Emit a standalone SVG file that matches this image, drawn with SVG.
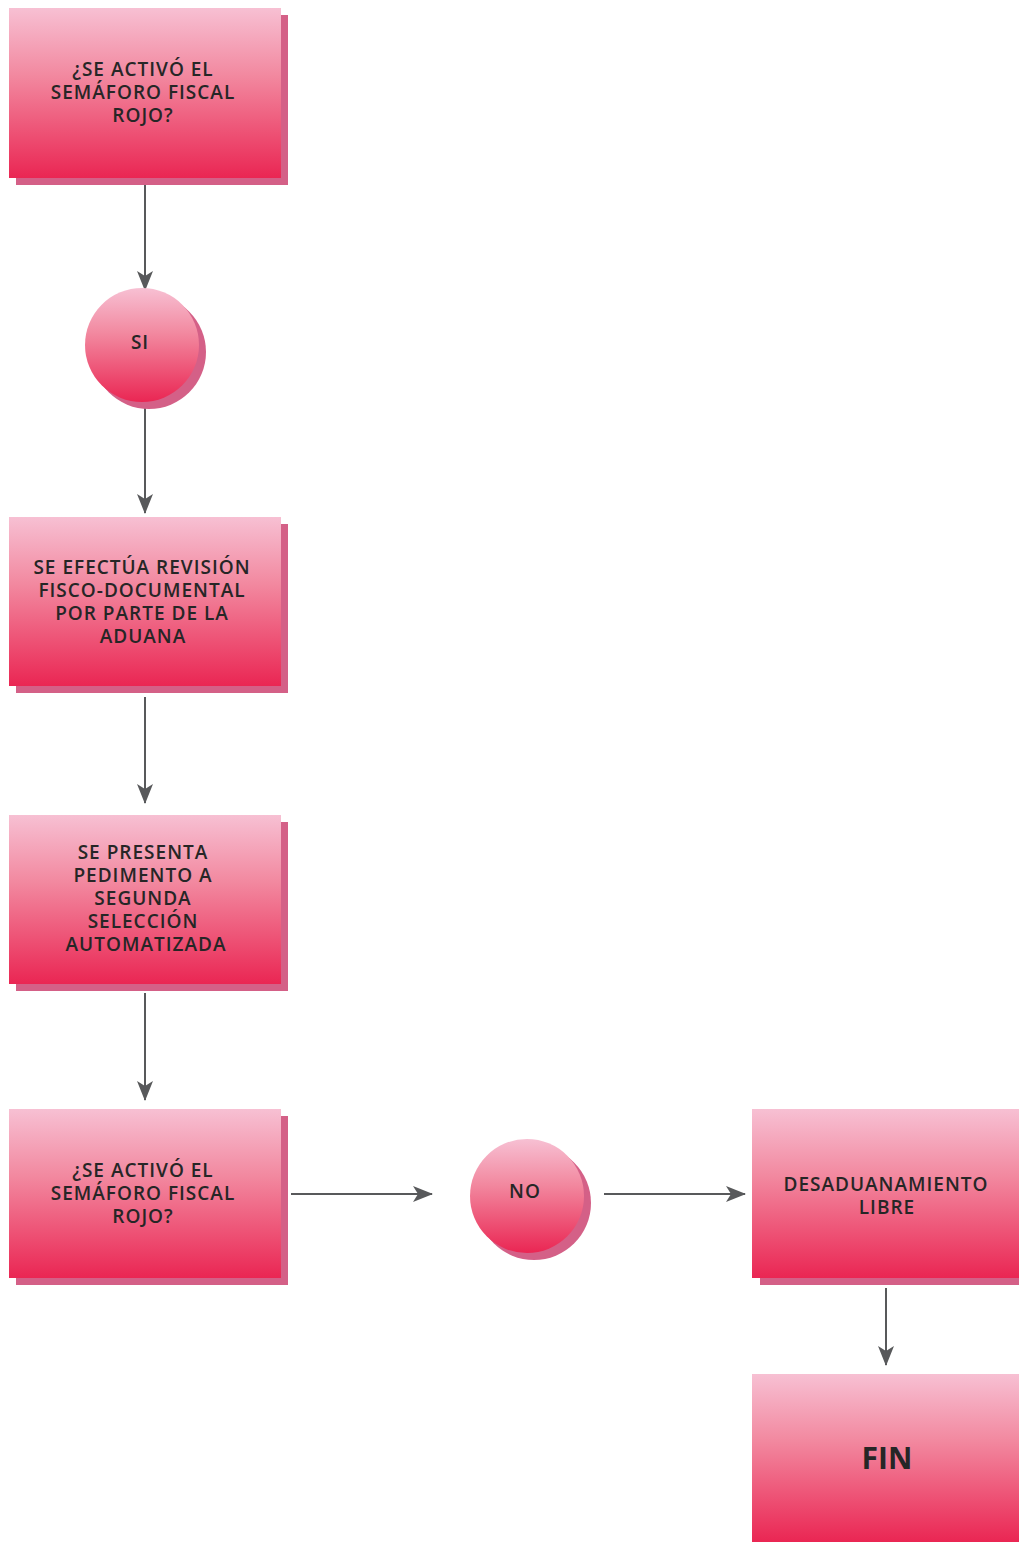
<svg xmlns="http://www.w3.org/2000/svg" width="1019" height="1542" viewBox="0 0 1019 1542">
<defs>
<linearGradient id="g" x1="0" y1="0" x2="0" y2="1">
<stop offset="0" stop-color="#f7c0d3"/>
<stop offset="0.4" stop-color="#f2889f"/>
<stop offset="1" stop-color="#ea2653"/>
</linearGradient>
<marker id="ah" viewBox="0 0 20 16" refX="19" refY="8" markerWidth="20" markerHeight="16" markerUnits="userSpaceOnUse" orient="auto">
<path d="M0,0 L20,8 L0,16 L5,8 Z" fill="#58595b"/>
</marker>
</defs>
<style>
.box{fill:url(#g)}
.sh{fill:#d46087}
.t{font-family:"Open Sans","DejaVu Sans",sans-serif;font-weight:600;font-size:19px;letter-spacing:1px;fill:#262626;text-anchor:middle}
.c{stroke:#58595b;stroke-width:2;fill:none;marker-end:url(#ah)}
</style>
<rect width="1019" height="1542" fill="#ffffff"/>
<g id="connectors">
<line class="c" x1="145" y1="182" x2="145" y2="290"/>
<line class="c" x1="145" y1="408" x2="145" y2="513"/>
<line class="c" x1="145" y1="697" x2="145" y2="803"/>
<line class="c" x1="145" y1="993" x2="145" y2="1100"/>
<line class="c" x1="291" y1="1194" x2="432" y2="1194"/>
<line class="c" x1="604" y1="1194" x2="745" y2="1194"/>
<line class="c" x1="886" y1="1288" x2="886" y2="1365"/>
</g>
<g id="n1">
<rect class="sh" x="16" y="15" width="272" height="170"/>
<rect class="box" x="9" y="8" width="272" height="170"/>
<text class="t" x="143" y="76">¿SE ACTIVÓ EL</text>
<text class="t" x="143" y="99">SEMÁFORO FISCAL</text>
<text class="t" x="143" y="122">ROJO?</text>
</g>
<g id="n2">
<circle class="sh" cx="149" cy="352" r="57"/>
<circle class="box" cx="142" cy="345" r="57"/>
<text class="t" x="140" y="349">SI</text>
</g>
<g id="n3">
<rect class="sh" x="16" y="524" width="272" height="169"/>
<rect class="box" x="9" y="517" width="272" height="169"/>
<text class="t" x="142" y="574">SE EFECTÚA REVISIÓN</text>
<text class="t" x="142" y="597">FISCO-DOCUMENTAL</text>
<text class="t" x="142" y="620">POR PARTE DE LA</text>
<text class="t" x="143" y="643">ADUANA</text>
</g>
<g id="n4">
<rect class="sh" x="16" y="822" width="272" height="169"/>
<rect class="box" x="9" y="815" width="272" height="169"/>
<text class="t" x="143" y="859">SE PRESENTA</text>
<text class="t" x="143" y="882">PEDIMENTO A</text>
<text class="t" x="143" y="905">SEGUNDA</text>
<text class="t" x="143" y="928">SELECCIÓN</text>
<text class="t" x="146" y="951">AUTOMATIZADA</text>
</g>
<g id="n5">
<rect class="sh" x="16" y="1116" width="272" height="169"/>
<rect class="box" x="9" y="1109" width="272" height="169"/>
<text class="t" x="143" y="1177">¿SE ACTIVÓ EL</text>
<text class="t" x="143" y="1200">SEMÁFORO FISCAL</text>
<text class="t" x="143" y="1223">ROJO?</text>
</g>
<g id="n6">
<circle class="sh" cx="534" cy="1203" r="57"/>
<circle class="box" cx="527" cy="1196" r="57"/>
<text class="t" x="525" y="1198">NO</text>
</g>
<g id="n7">
<rect class="sh" x="760" y="1116" width="259" height="169"/>
<rect class="box" x="752" y="1109" width="267" height="169"/>
<text class="t" x="886" y="1191">DESADUANAMIENTO</text>
<text class="t" x="887" y="1214">LIBRE</text>
</g>
<g id="n8">
<rect class="box" x="752" y="1374" width="267" height="168"/>
<text class="t" x="887" y="1469" style="font-size:30px;font-weight:700;letter-spacing:0">FIN</text>
</g>
</svg>
